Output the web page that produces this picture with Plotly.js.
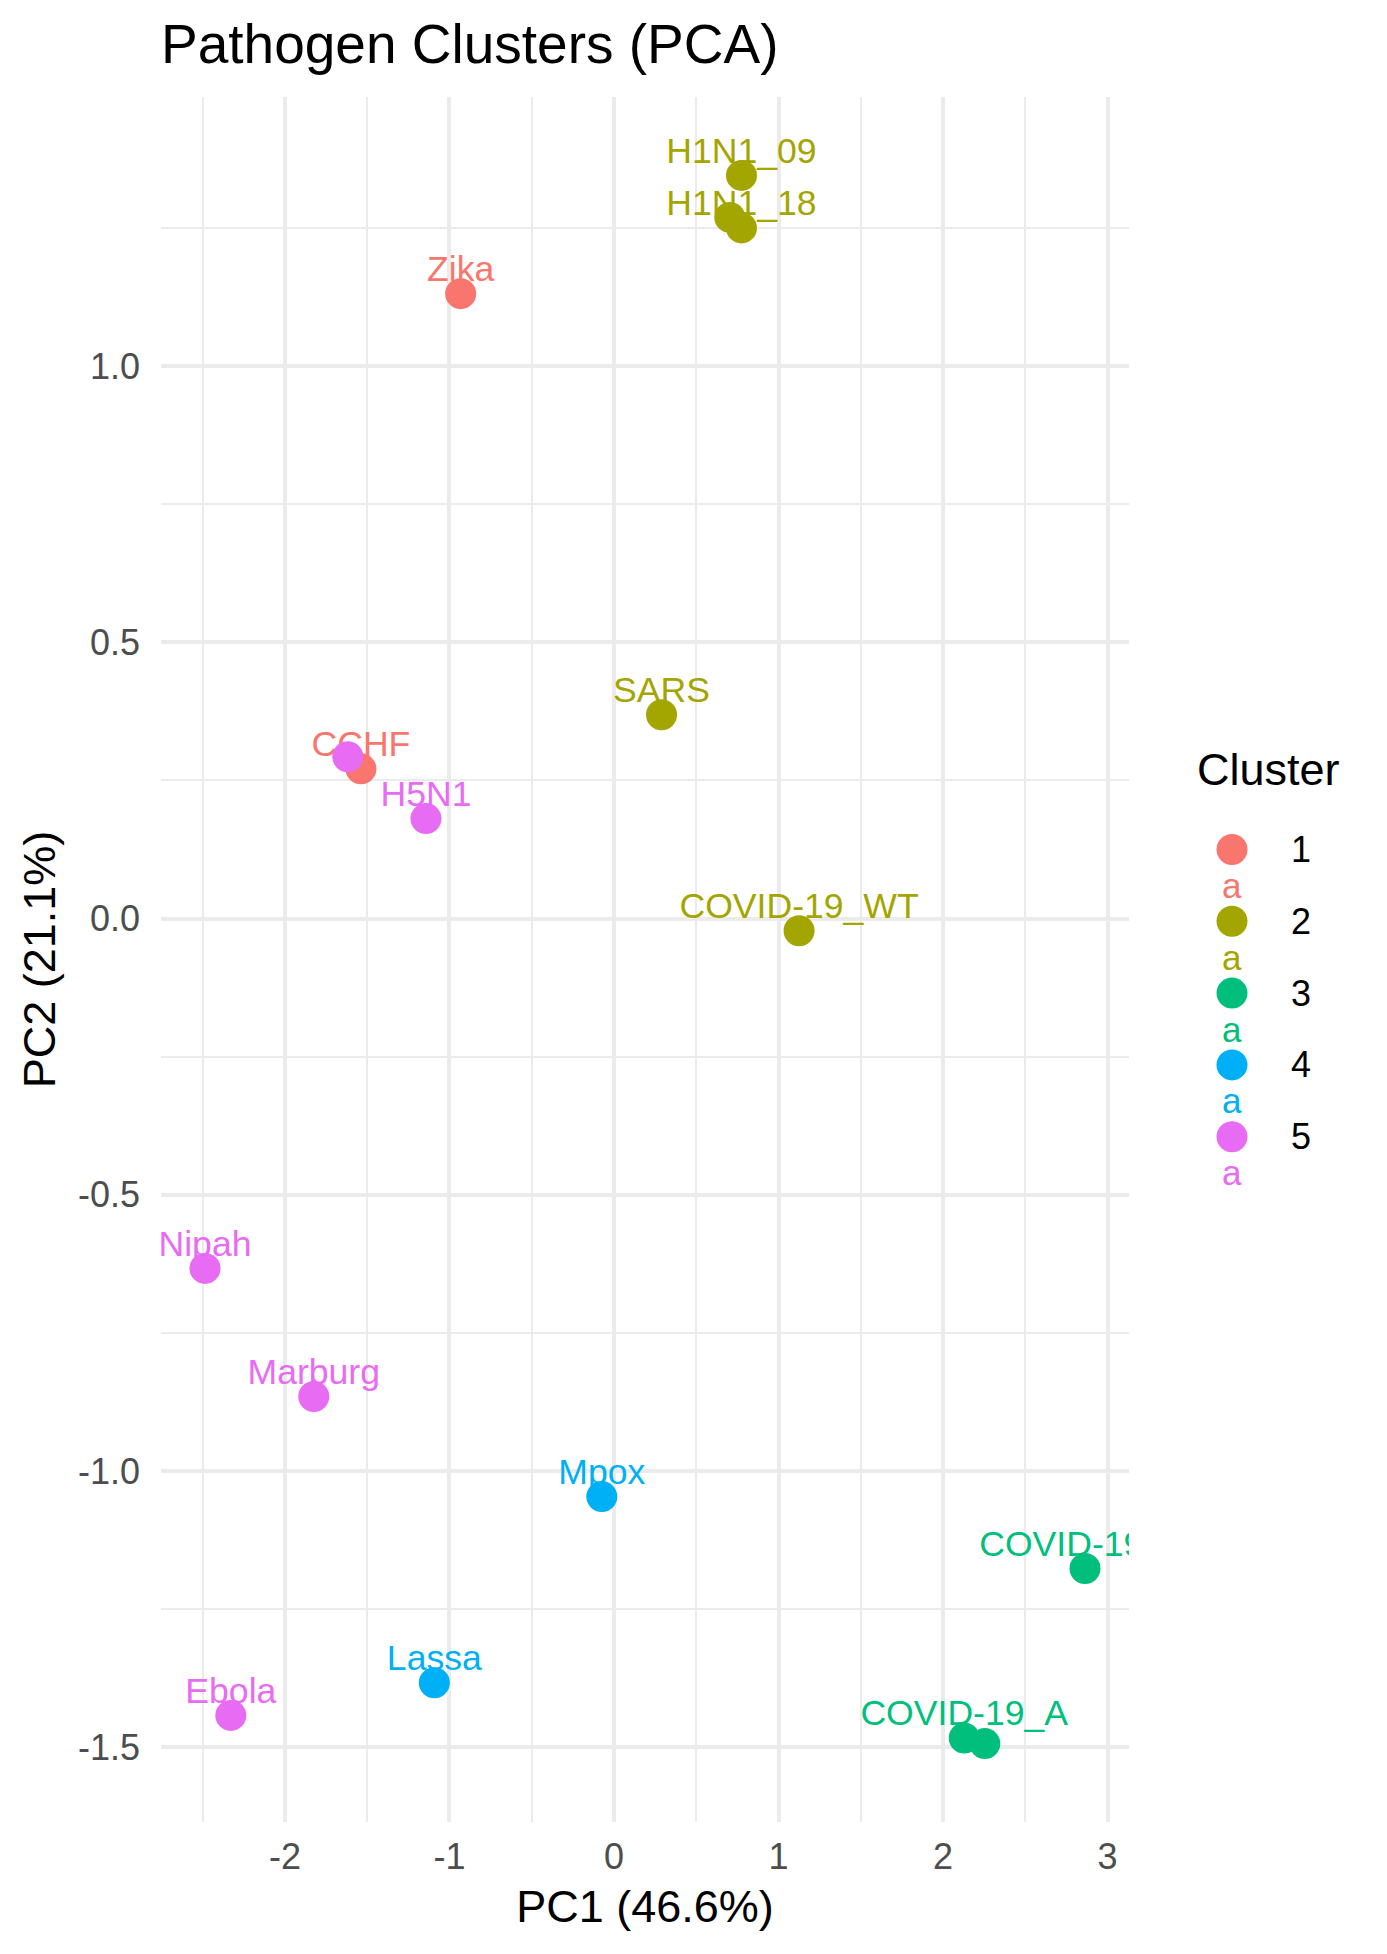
<!DOCTYPE html>
<html>
<head>
<meta charset="utf-8">
<script src="https://cdn.plot.ly/plotly-3.0.1.min.js"></script>
<style>
  html, body { margin: 0; padding: 0; background: #ffffff; }
  #chart { width: 1387px; height: 1954px; }
</style>
</head>
<body>
<div id="chart"></div>
<script>
// ---- data ----
const pathogen = ["Zika", "CCHF", "H1N1_09", "H1N1_77", "H1N1_18", "SARS", "COVID-19_WT",
                  "COVID-19_O", "COVID-19_A", "COVID-19_B", "Mpox", "Lassa",
                  "Hantaan", "H5N1", "Nipah", "Marburg", "Ebola"];
const pc1 = [-0.932, -1.538, 0.775, 0.704, 0.775, 0.289, 1.125,
             2.863, 2.129, 2.254, -0.074, -1.092,
             -1.618, -1.143, -2.486, -1.825, -2.329];
const pc2 = [1.131, 0.271, 1.345, 1.269, 1.250, 0.369, -0.022,
             -1.176, -1.483, -1.493, -1.046, -1.383,
             0.293, 0.181, -0.633, -0.865, -1.442];
const cluster = [1, 1, 2, 2, 2, 2, 2, 3, 3, 3, 4, 4, 5, 5, 5, 5, 5];
// labels dropped by overlap checking in the original
const labelShown = [1, 1, 1, 0, 1, 1, 1, 1, 1, 0, 1, 1, 0, 1, 1, 1, 1];

const clusterLevels = ["1", "2", "3", "4", "5"];
const clusterColors = ["#F8766D", "#A3A500", "#00BF7D", "#00B0F6", "#E76BF3"];

const xTickVals = [-2, -1, 0, 1, 2, 3];
const xTickText = ["-2", "-1", "0", "1", "2", "3"];
const yTickVals = [-1.5, -1.0, -0.5, 0.0, 0.5, 1.0];
const yTickText = ["-1.5", "-1.0", "-0.5", "0.0", "0.5", "1.0"];

const titleText = "Pathogen Clusters (PCA)";
const xTitle = "PC1 (46.6%)";
const yTitle = "PC2 (21.1%)";
const legendTitle = "Cluster";

// ---- styling ----
const FONT = "'Liberation Sans', Arial, Helvetica, sans-serif";
const W = 1387, H = 1954;
const M = {l: 161, r: 258, t: 97, b: 132};
const plotW = W - M.l - M.r, plotH = H - M.t - M.b;

function expand(arr) {
  const mn = Math.min(...arr), mx = Math.max(...arr);
  const pad = (mx - mn) * 0.05;
  return [mn - pad, mx + pad];
}

const traces = [];
// text layers first (points drawn over text, as in the original)
clusterLevels.forEach((lev, ci) => {
  const idx = cluster.map((c, i) => (String(c) === lev ? i : -1)).filter(i => i >= 0);
  traces.push({
    type: "scatter",
    mode: "markers+text",
    x: idx.map(i => pc1[i]),
    y: idx.map(i => pc2[i]),
    text: idx.map(i => (labelShown[i] ? pathogen[i] : "")),
    textposition: "top center",
    textfont: {family: FONT, size: 35.6, color: clusterColors[ci]},
    marker: {size: 4.7, color: "rgba(0,0,0,0)"},
    cliponaxis: true,
    hoverinfo: "skip",
    showlegend: false
  });
});
clusterLevels.forEach((lev, ci) => {
  const idx = cluster.map((c, i) => (String(c) === lev ? i : -1)).filter(i => i >= 0);
  traces.push({
    type: "scatter",
    mode: "markers",
    name: lev,
    x: idx.map(i => pc1[i]),
    y: idx.map(i => pc2[i]),
    text: idx.map(i => pathogen[i]),
    marker: {size: 31, color: clusterColors[ci], line: {width: 0}},
    cliponaxis: false,
    hoverinfo: "text+x+y",
    showlegend: false
  });
});

// ---- custom legend (ggplot-style key: point + "a") ----
const px2x = p => (p - M.l) / plotW;
const px2y = p => (H - M.b - p) / plotH;
const legKeyX = 1232, legTextX = 1289, legTop = 849.5, legStep = 71.8;
const shapes = [];
const annotations = [];
annotations.push({
  xref: "paper", yref: "paper", x: px2x(1195), y: px2y(769),
  xanchor: "left", yanchor: "middle", showarrow: false,
  text: legendTitle, font: {family: FONT, size: 45, color: "#000000"}
});
clusterLevels.forEach((lev, ci) => {
  const cy = legTop + ci * legStep;
  shapes.push({
    type: "circle", xref: "paper", yref: "paper",
    xsizemode: "pixel", ysizemode: "pixel",
    xanchor: px2x(legKeyX), yanchor: px2y(cy),
    x0: -15.5, x1: 15.5, y0: -15.5, y1: 15.5,
    fillcolor: clusterColors[ci], line: {width: 0}, layer: "above"
  });
  annotations.push({
    xref: "paper", yref: "paper", x: px2x(legTextX), y: px2y(cy),
    xanchor: "left", yanchor: "middle", showarrow: false,
    text: lev, font: {family: FONT, size: 36, color: "#000000"}
  });
  annotations.push({
    xref: "paper", yref: "paper", x: px2x(legKeyX), y: px2y(cy + 36),
    xanchor: "center", yanchor: "middle", showarrow: false,
    text: "a", font: {family: FONT, size: 35, color: clusterColors[ci]}
  });
});

const gridCol = "#EBEBEB";
const layout = {
  width: W, height: H,
  margin: M,
  paper_bgcolor: "#ffffff",
  plot_bgcolor: "#ffffff",
  showlegend: false,
  hovermode: "closest",
  font: {family: FONT, color: "#000000"},
  title: {
    text: titleText,
    font: {family: FONT, size: 55, color: "#000000"},
    xref: "paper", x: 0, xanchor: "left",
    yref: "container", y: 1 - 44 / H, yanchor: "middle"
  },
  xaxis: {
    range: expand(pc1),
    tickmode: "array", tickvals: xTickVals, ticktext: xTickText,
    ticks: "", showline: false, zeroline: false,
    showgrid: true, gridcolor: gridCol, gridwidth: 3.6,
    minor: {dtick: 0.5, tick0: 0.5, showgrid: true, gridcolor: gridCol, gridwidth: 1.8, ticks: ""},
    tickfont: {family: FONT, size: 36, color: "#4D4D4D"},
    ticklabelstandoff: 10,
    title: {text: xTitle, font: {family: FONT, size: 45, color: "#000000"}, standoff: 14},
    automargin: false
  },
  yaxis: {
    range: expand(pc2),
    tickmode: "array", tickvals: yTickVals, ticktext: yTickText,
    ticks: "", showline: false, zeroline: false,
    showgrid: true, gridcolor: gridCol, gridwidth: 3.6,
    minor: {dtick: 0.25, tick0: 0.25, showgrid: true, gridcolor: gridCol, gridwidth: 1.8, ticks: ""},
    tickfont: {family: FONT, size: 36, color: "#4D4D4D"},
    ticklabelstandoff: 20,
    title: {text: yTitle, font: {family: FONT, size: 45, color: "#000000"}, standoff: 8},
    automargin: false
  },
  shapes: shapes,
  annotations: annotations
};

Plotly.newPlot("chart", traces, layout, {displayModeBar: false, responsive: false});
</script>
</body>
</html>
